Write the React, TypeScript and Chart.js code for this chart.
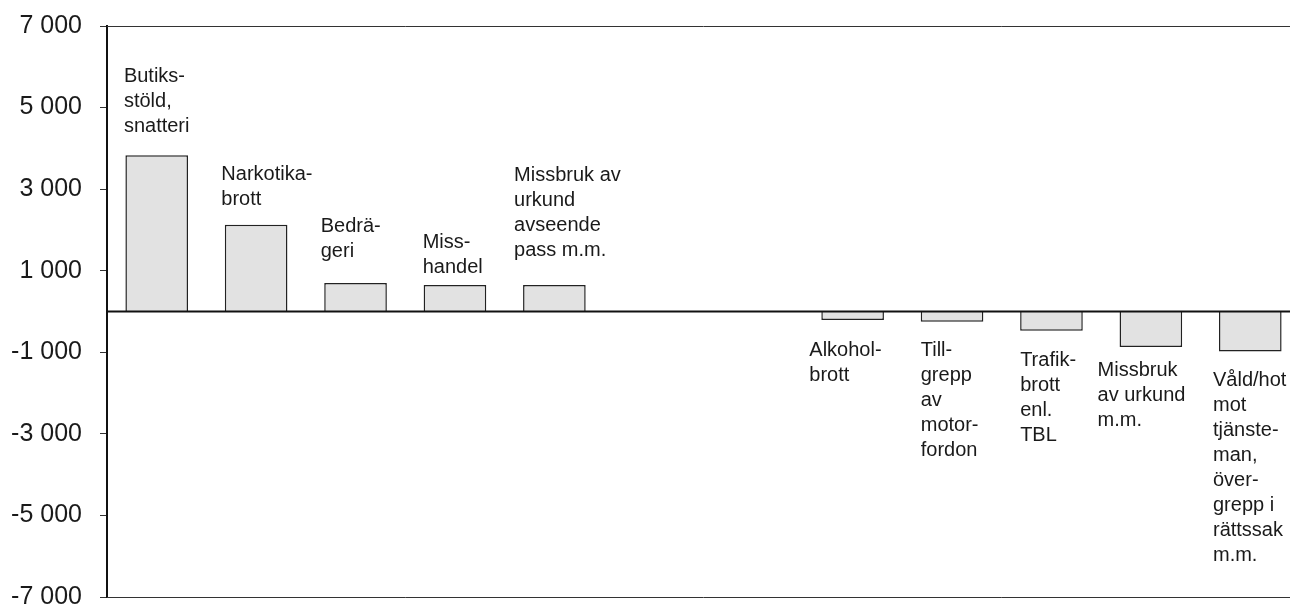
import { useEffect, useRef } from "react";
import { Chart, registerables } from "chart.js";

Chart.register(...registerables);

// ---- data ----
const categories = [
  "Butiksstöld, snatteri",
  "Narkotikabrott",
  "Bedrägeri",
  "Misshandel",
  "Missbruk av urkund avseende pass m.m.",
  "",
  "",
  "Alkoholbrott",
  "Tillgrepp av motorfordon",
  "Trafikbrott enl. TBL",
  "Missbruk av urkund m.m.",
  "Våld/hot mot tjänsteman, övergrepp i rättssak m.m.",
];

const labelLines: string[][] = [
  ["Butiks-", "stöld,", "snatteri"],
  ["Narkotika-", "brott"],
  ["Bedrä-", "geri"],
  ["Miss-", "handel"],
  ["Missbruk av", "urkund", "avseende", "pass m.m."],
  [],
  [],
  ["Alkohol-", "brott"],
  ["Till-", "grepp", "av", "motor-", "fordon"],
  ["Trafik-", "brott", "enl.", "TBL"],
  ["Missbruk", "av urkund", "m.m."],
  ["Våld/hot", "mot", "tjänste-", "man,", "över-", "grepp i", "rättssak", "m.m."],
];

const values: (number | null)[] = [3830, 2130, 700, 650, 650, null, null, -210, -250, -470, -870, -980];

const yTickValues = [-7000, -5000, -3000, -1000, 1000, 3000, 5000, 7000];

// ---- label placement (style, px): [dx from bar left, gap from bar end to nearest baseline] ----
const labelPlacement: [number, number][] = [
  [-1.5, 23.5],
  [-3.5, 19.5],
  [-3.5, 26],
  [-1, 11.5],
  [-9, 28.5],
  [0, 0],
  [0, 0],
  [-12, 35.5],
  [0, 34],
  [0, 35],
  [-22, 29.5],
  [-6, 34.5],
];

const LINE_H = 25;
const FONT = "Liberation Sans, Arial, Helvetica, sans-serif";

function fmt(v: number): string {
  const s = Math.abs(v).toString().replace(/\B(?=(\d{3})+(?!\d))/g, " ");
  return (v < 0 ? "-" : "") + s;
}

const overlayPlugin = {
  id: "overlay",
  afterDatasetsDraw(chart: any) {
    const { ctx, chartArea, scales } = chart;
    const y = scales.y;
    ctx.save();
    // top and bottom frame lines
    ctx.strokeStyle = "#333";
    ctx.lineWidth = 1;
    [y.max, y.min].forEach((v: number) => {
      const py = Math.round(y.getPixelForValue(v)) + 0.5;
      ctx.beginPath();
      ctx.moveTo(chartArea.left, py);
      ctx.lineTo(chartArea.right, py);
      ctx.stroke();
    });
    // zero line
    ctx.strokeStyle = "#111";
    ctx.lineWidth = 2;
    const pz = y.getPixelForValue(0);
    ctx.beginPath();
    ctx.moveTo(chartArea.left, pz);
    ctx.lineTo(chartArea.right, pz);
    ctx.stroke();

    // category labels
    ctx.fillStyle = "#1a1a1a";
    ctx.font = `20px ${FONT}`;
    ctx.textAlign = "left";
    ctx.textBaseline = "alphabetic";
    const meta = chart.getDatasetMeta(0);
    meta.data.forEach((bar: any, i: number) => {
      const v = values[i];
      const lines = labelLines[i];
      if (v === null || !lines.length) return;
      const [dx, gap] = labelPlacement[i];
      const left = bar.x - bar.width / 2 + dx;
      let first: number;
      if (v >= 0) {
        const last = bar.y - gap;
        first = last - (lines.length - 1) * LINE_H;
      } else {
        first = bar.y + gap;
      }
      lines.forEach((t, k) => ctx.fillText(t, left, first + k * LINE_H));
    });
    ctx.restore();
  },
};

export default function App() {
  const ref = useRef<HTMLCanvasElement | null>(null);

  useEffect(() => {
    document.body.style.margin = "0";
    document.body.style.overflow = "hidden";
    const canvas = ref.current;
    if (!canvas) return;
    const chart = new Chart(canvas, {
      type: "bar",
      data: {
        labels: categories,
        datasets: [
          {
            data: values as any,
            backgroundColor: "#e2e2e2",
            borderColor: "#222",
            borderWidth: 1.5,
            barPercentage: 0.63,
            categoryPercentage: 1,
          },
        ],
      },
      options: {
        responsive: false,
        animation: false,
        devicePixelRatio: 1,
        layout: { padding: { top: 26, bottom: 11, left: 0, right: 0 } },
        plugins: {
          legend: { display: false },
          tooltip: { enabled: false },
          title: { display: false },
        },
        scales: {
          x: {
            display: false,
            offset: true,
            grid: { display: false },
          },
          y: {
            min: -7000,
            max: 7000,
            afterBuildTicks: (scale: any) => {
              scale.ticks = yTickValues.map((v) => ({ value: v }));
            },
            afterFit: (scale: any) => {
              scale.width = 107;
              scale.paddingTop = 0;
              scale.paddingBottom = 0;
            },
            ticks: {
              autoSkip: false,
              padding: 18,
              color: "#1a1a1a",
              font: { family: FONT, size: 25 },
              callback: (v: any) => fmt(Number(v)),
            },
            grid: {
              drawOnChartArea: false,
              drawTicks: true,
              tickLength: 7,
              tickColor: "#333",
              tickWidth: 1,
            },
            border: { display: true, color: "#111", width: 2 },
          },
        },
      },
      plugins: [overlayPlugin],
    });
    return () => chart.destroy();
  }, []);

  return (
    <div style={{ width: 1290, height: 608, overflow: "hidden", position: "relative" }}>
      <canvas ref={ref} width={1300} height={608} style={{ display: "block" }} />
    </div>
  );
}
